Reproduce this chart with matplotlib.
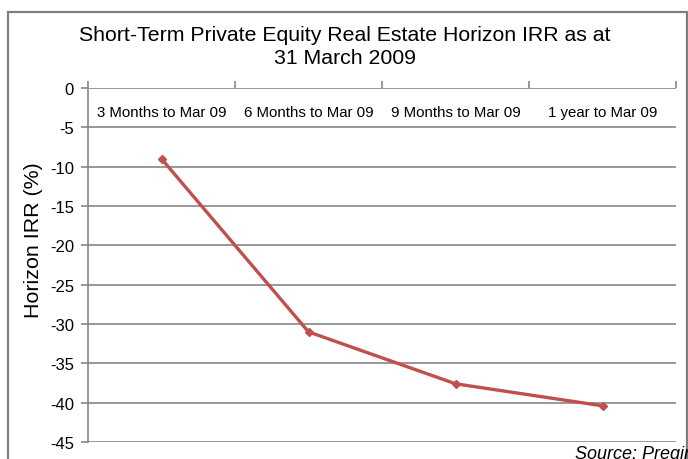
import numpy as np
import matplotlib
matplotlib.use("Agg")
import matplotlib.pyplot as plt
from matplotlib.patches import Rectangle

plt.rcParams["font.family"] = ["Liberation Sans", "DejaVu Sans"]

# data
categories = ["3 Months to Mar 09", "6 Months to Mar 09", "9 Months to Mar 09", "1 year to Mar 09"]
irr = [-9.0, -31.0, -37.6, -40.4]
y_ticks = [0, -5, -10, -15, -20, -25, -30, -35, -40, -45]

LINE = "#C0504D"
GRID = "#868686"

fig = plt.figure(figsize=(6.88, 4.60), dpi=100)
ax = fig.add_axes([88 / 688, 1 - 443 / 460, 588 / 688, 354 / 460])

# outer frame (cut off at the bottom like the source)
fig.patches.append(Rectangle((8 / 688, -0.05), 679 / 688, 1.05 - 13 / 460,
                             transform=fig.transFigure, fill=False,
                             edgecolor="#7f7f7f", linewidth=1.6))

x = np.arange(len(categories)) + 0.5
ax.plot(x, irr, color=LINE, lw=2.4, marker="D", ms=4.5, mfc=LINE, mec=LINE)

ax.set_xlim(0, len(categories))
ax.set_ylim(-45, 0)
ax.set_yticks(y_ticks)
ax.set_yticklabels([str(v) for v in y_ticks], fontsize=12)
for v in y_ticks:
    ax.axhline(v, color=GRID, lw=1.2, zorder=0)

# category axis sits on y=0, ticks upward at boundaries
ax.xaxis.tick_top()
ax.set_xticks(np.arange(len(categories) + 1))
ax.set_xticklabels([])
ax.tick_params(axis="x", direction="out", length=5, color=GRID, width=1.2)
ax.tick_params(axis="y", direction="out", length=5, color=GRID, width=1.2, pad=5)
for xi, lab in zip(x, categories):
    ax.text(xi, -3.05, lab, ha="center", va="center", fontsize=10.8)

for s in ["right", "bottom", "top"]:
    ax.spines[s].set_visible(False)
ax.spines["left"].set_color(GRID)
ax.spines["left"].set_linewidth(1.2)

ax.set_ylabel("Horizon IRR (%)", fontsize=15.4)
ax.yaxis.set_label_coords(-0.077, 0.573)

fig.text(345 / 688, 1 - 47 / 460, "Short-Term Private Equity Real Estate Horizon IRR as at\n31 March 2009",
         ha="center", va="center", fontsize=15.3, linespacing=1.22)
fig.text(575 / 688, 1 - 459 / 460, "Source: Preqin", ha="left", va="baseline",
         fontsize=13, style="italic")

fig.savefig("out.png", dpi=100)
